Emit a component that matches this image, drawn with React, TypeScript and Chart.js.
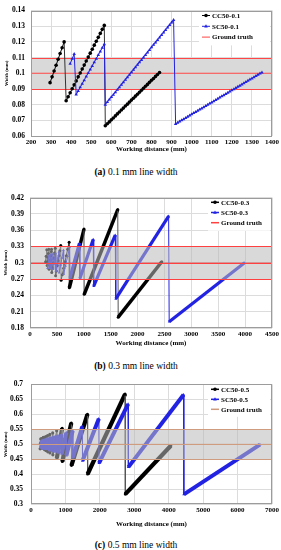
import React, { useEffect, useRef } from "react";
import { Chart, registerables } from "chart.js";
Chart.register(...registerables);

const SERIF = "'Liberation Serif', 'Times New Roman', serif";
const BLUE = "#2222e2";
const GRID = "#dcdcdc";

// ---------- (a) 0.1 mm line width ----------
const aCcDist = [295,305,315,325,335,345,355,365,375,385,395,405,415,425,435,445,455,465,475,485,495,505,515,525,535,545,555,565,570,580,590,600,610,620,630,640,650,660,670,680,690,700,710,720,730,740,750,760,770,780,790,800,810,820,830,840];
const aCcWidth = [0.094,0.0977,0.1014,0.1051,0.1089,0.1126,0.1163,0.120,0.0825,0.0850,0.0876,0.0901,0.0926,0.0951,0.0977,0.1002,0.1027,0.1052,0.1078,0.1103,0.1128,0.1153,0.1179,0.1204,0.1229,0.1254,0.1280,0.1305,0.0665,0.0678,0.0690,0.0703,0.0715,0.0728,0.0741,0.0753,0.0766,0.0778,0.0791,0.0803,0.0816,0.0829,0.0841,0.0854,0.0866,0.0879,0.0892,0.0904,0.0917,0.0929,0.0942,0.0955,0.0967,0.0980,0.0992,0.1005];
const aScDist = [395,405,415,425,435,445,455,465,475,485,495,505,515,525,535,545,555,565,570,580,590,600,610,620,630,640,650,660,670,680,690,700,710,720,730,740,750,760,770,780,790,800,810,820,830,840,850,860,870,880,890,900,910,920,930,940,950,960,970,980,990,1000,1010,1020,1030,1040,1050,1060,1070,1080,1090,1100,1110,1120,1130,1140,1150,1160,1170,1180,1190,1200,1210,1220,1230,1240,1250,1260,1270,1280,1290,1300,1310,1320,1330,1340,1350];
const aScWidth = [0.106,0.1092,0.1122,0.0864,0.0887,0.0910,0.0933,0.0956,0.0979,0.1001,0.1024,0.1047,0.1070,0.1093,0.1116,0.1139,0.1162,0.1185,0.0800,0.0816,0.0832,0.0848,0.0863,0.0879,0.0895,0.0911,0.0927,0.0943,0.0959,0.0974,0.0990,0.1006,0.1022,0.1038,0.1054,0.1070,0.1085,0.1101,0.1117,0.1133,0.1149,0.1165,0.1181,0.1196,0.1212,0.1228,0.1244,0.1260,0.1276,0.1292,0.1307,0.1323,0.1339,0.0677,0.0685,0.0692,0.0700,0.0707,0.0715,0.0723,0.0730,0.0738,0.0746,0.0753,0.0761,0.0769,0.0776,0.0784,0.0791,0.0799,0.0807,0.0814,0.0822,0.0830,0.0837,0.0845,0.0853,0.0860,0.0868,0.0876,0.0883,0.0891,0.0898,0.0906,0.0914,0.0921,0.0929,0.0937,0.0944,0.0952,0.0960,0.0967,0.0975,0.0982,0.0990,0.0998,0.1005];
const aTruthDist = [200, 1400];
const aTruthWidth = [0.1, 0.1];
const aBand = [0.09, 0.11];

// ---------- (b) 0.3 mm line width ----------
const bCcDist = [290,300,312,318,326,334,342,350,355,365,375,385,395,400,405,418,431,444,457,470,476,492,508,524,540,556,572,578,600,625,650,675,700,728,732,1004,1008,1632,1640,2450];
const bCcWidth = [0.302,0.312,0.324,0.295,0.302,0.310,0.317,0.325,0.288,0.296,0.305,0.313,0.321,0.325,0.282,0.291,0.300,0.309,0.318,0.327,0.276,0.285,0.295,0.304,0.313,0.322,0.332,0.268,0.278,0.290,0.302,0.313,0.325,0.338,0.254,0.362,0.242,0.398,0.200,0.302];
const bScDist = [325,335,345,351,355,365,375,385,390,400,412,425,430,445,460,475,480,500,520,538,543,570,595,621,626,660,700,738,744,830,920,928,1175,1185,1585,1595,2578,2588,3990];
const bScWidth = [0.290,0.299,0.308,0.313,0.290,0.298,0.306,0.315,0.290,0.297,0.306,0.316,0.288,0.298,0.308,0.318,0.285,0.297,0.309,0.320,0.282,0.296,0.309,0.323,0.279,0.294,0.312,0.329,0.272,0.304,0.336,0.271,0.343,0.257,0.351,0.2335,0.386,0.1916,0.300];
const bTruthDist = [0, 4500];
const bTruthWidth = [0.3, 0.3];
const bBand = [0.27, 0.33];

// ---------- (c) 0.5 mm line width ----------
const cCcDist = [265,275,283,288,296,303,308,318,328,333,345,357,362,376,390,395,413,431,436,459,482,487,517,546,551,590,630,635,690,745,750,905,910,1171,1176,1639,1645,2732,2740,4060];
const cCcWidth = [0.485,0.503,0.518,0.492,0.506,0.518,0.488,0.504,0.520,0.488,0.505,0.523,0.486,0.505,0.523,0.482,0.504,0.526,0.479,0.504,0.529,0.475,0.505,0.533,0.471,0.504,0.538,0.465,0.505,0.545,0.454,0.553,0.443,0.571,0.430,0.600,0.401,0.667,0.334,0.495];
const cScDist = [296,303,310,312,318,325,327,335,342,344,352,360,362,371,381,383,393,404,406,418,430,432,446,460,462,478,494,496,515,533,535,558,580,582,608,635,637,670,702,704,744,784,786,838,889,891,958,1026,1028,1120,1212,1216,1490,1496,1970,1976,2820,2828,4431,4440,6650];
const cScWidth = [0.488,0.500,0.512,0.491,0.501,0.512,0.4905,0.5025,0.513,0.490,0.502,0.513,0.489,0.501,0.514,0.488,0.501,0.515,0.487,0.502,0.516,0.486,0.502,0.5175,0.485,0.502,0.519,0.4836,0.502,0.520,0.4815,0.502,0.522,0.480,0.502,0.524,0.478,0.5025,0.5265,0.475,0.502,0.529,0.4716,0.503,0.533,0.468,0.503,0.539,0.4626,0.504,0.545,0.456,0.559,0.445,0.585,0.437,0.634,0.424,0.665,0.333,0.499];
const cTruthDist = [0, 7000];
const cTruthWidth = [0.5, 0.5];
const cBand = [0.45, 0.55];

function pts(xs: number[], ys: number[]) {
  return xs.map((x, i) => ({ x, y: ys[i] }));
}

const font = (size: number, weight: any = "bold") => ({ family: SERIF, size, weight });

function seriesStyle(color: string, dropColor: string, pointStyle: string, radius: number, thick: number, minLen: number) {
  return {
    borderColor: color,
    backgroundColor: color,
    pointBackgroundColor: color,
    pointBorderColor: color,
    pointBorderWidth: 0,
    pointStyle,
    pointRadius: radius,
    borderWidth: 1,
    showLine: true,
    tension: 0,
    segment: {
      borderWidth: (c: any) => {
        const dx = c.p1.x - c.p0.x;
        const dy = c.p1.y - c.p0.y;
        if (dy > 0) return 1;
        return Math.hypot(dx, dy) >= minLen ? thick : 1;
      },
      borderColor: (c: any) => (c.p1.y - c.p0.y > 0 ? dropColor : color),
    },
  };
}

function drawMarker(ctx: any, style: string, x: number, y: number, r: number) {
  ctx.beginPath();
  if (style === "triangle") {
    ctx.moveTo(x, y - r * 1.1);
    ctx.lineTo(x + r, y + r * 0.7);
    ctx.lineTo(x - r, y + r * 0.7);
    ctx.closePath();
  } else {
    ctx.arc(x, y, r, 0, Math.PI * 2);
  }
  ctx.fill();
}

function drawBand(chart: any, o: any) {
  const { ctx, chartArea: ca, scales } = chart;
  const y = scales.y;
  const yHi = Math.round(y.getPixelForValue(o.band[1]));
  const yLo = Math.round(y.getPixelForValue(o.band[0]));
  ctx.save();
  ctx.fillStyle = o.bandFill;
  ctx.fillRect(ca.left, yHi, ca.right - ca.left, yLo - yHi);
  ctx.strokeStyle = o.edge;
  ctx.lineWidth = 1;
  ctx.strokeRect(ca.left + 0.5, yHi + 0.5, ca.right - ca.left - 1, yLo - yHi);
  if (o.onTop) {
    const yc = Math.round(y.getPixelForValue(o.truth)) + 0.5;
    ctx.beginPath();
    ctx.moveTo(ca.left, yc);
    ctx.lineTo(ca.right, yc);
    ctx.stroke();
  }
  ctx.restore();
}

function drawLegend(chart: any, o: any) {
  const { ctx, chartArea: ca } = chart;
  const x0 = o.legendX;
  ctx.save();
  ctx.fillStyle = "#ffffff";
  ctx.fillRect(x0 - 3, ca.top + 1.5, ca.right - 2 - (x0 - 3), o.legendGap * 3 + 1);
  let y = ca.top + o.legendTop;
  chart.data.datasets.forEach((ds: any) => {
    ctx.strokeStyle = ds.borderColor;
    ctx.lineWidth = o.legendLineWidth;
    ctx.beginPath();
    ctx.moveTo(x0, y);
    ctx.lineTo(x0 + 8, y);
    ctx.stroke();
    if (ds.pointStyle) {
      ctx.fillStyle = ds.borderColor;
      drawMarker(ctx, ds.pointStyle, x0 + 4, y, 1.8);
    }
    ctx.fillStyle = "#000";
    ctx.font = `bold 7px ${SERIF}`;
    ctx.textBaseline = "middle";
    ctx.textAlign = "left";
    ctx.fillText(ds.label, x0 + 10, y + 0.5);
    y += o.legendGap;
  });
  ctx.restore();
}

const panelPlugin = {
  id: "panel",
  beforeDatasetsDraw(chart: any, _a: any, o: any) {
    if (!o.onTop) drawBand(chart, o);
  },
  afterDatasetsDraw(chart: any, _a: any, o: any) {
    if (o.onTop) drawBand(chart, o);
    const { ctx, chartArea: ca } = chart;
    ctx.save();
    ctx.strokeStyle = "#9c9c9c";
    ctx.lineWidth = 1;
    ctx.strokeRect(Math.round(ca.left) + 0.5, Math.round(ca.top) + 0.5, Math.round(ca.right - ca.left) - 1, Math.round(ca.bottom - ca.top) - 1);
    ctx.restore();
    drawLegend(chart, o);
  },
};

function buildConfig(s: any) {
  return {
    type: "scatter",
    data: {
      datasets: [
        { label: s.ccLabel, data: pts(s.ccDist, s.ccWidth), order: 1, ...seriesStyle("#000000", s.ccDrop, "circle", s.ccRadius, s.ccThick, s.ccMinLen) },
        { label: s.scLabel, data: pts(s.scDist, s.scWidth), order: 0, ...seriesStyle(BLUE, BLUE, "triangle", s.scRadius, s.scThick, s.scMinLen) },
        { label: "Ground truth", data: pts(s.truthDist, s.truthWidth), order: 2, borderColor: s.edge, backgroundColor: s.edge, borderWidth: 1, pointRadius: 0, pointStyle: false, showLine: true },
      ],
    },
    options: {
      responsive: false,
      animation: false,
      devicePixelRatio: 1,
      events: [],
      layout: { padding: s.padding },
      plugins: {
        legend: { display: false },
        tooltip: { enabled: false },
        panel: {
          band: s.band,
          truth: s.truthWidth[0],
          bandFill: s.bandFill,
          edge: s.edge,
          onTop: s.onTop,
          legendX: s.legendX,
          legendTop: s.legendTop,
          legendGap: s.legendGap,
          legendLineWidth: s.legendLineWidth,
        },
      },
      scales: {
        x: {
          type: "linear",
          position: "bottom",
          min: s.xMin,
          max: s.xMax,
          ticks: { stepSize: s.xStep, font: font(7), color: "#000", padding: s.xTickPad, maxRotation: 0, autoSkip: false, callback: (v: any) => String(v) },
          grid: { color: GRID, drawTicks: false },
          border: { display: false },
          title: { display: true, text: "Working distance (mm)", font: font(7), color: "#000", padding: { top: 0, bottom: s.xTitlePad } },
          afterFit: (sc: any) => { sc.height = s.xHeight; },
        },
        y: {
          type: "linear",
          min: s.yMin,
          max: s.yMax,
          ticks: { stepSize: s.yStep, font: font(7.5), color: "#000", padding: s.yTickPad, callback: (v: any) => String(Math.round(v * 1000) / 1000) },
          grid: { color: GRID, drawTicks: false },
          border: { display: false },
          title: { display: true, text: "Width (mm)", font: font(4.8), color: "#000", padding: { top: s.yTitlePad, bottom: 0 } },
          afterFit: (sc: any) => { sc.width = s.yWidth; },
        },
      },
    },
    plugins: [panelPlugin],
  };
}

const specA = {
  ccLabel: "CC50-0.1", scLabel: "SC50-0.1",
  ccDist: aCcDist, ccWidth: aCcWidth, scDist: aScDist, scWidth: aScWidth,
  truthDist: aTruthDist, truthWidth: aTruthWidth, band: aBand,
  ccDrop: "#333333", ccRadius: 1.8, ccThick: 1, ccMinLen: 9999,
  scRadius: 2, scThick: 1, scMinLen: 9999,
  bandFill: "#d9d9d9", edge: "#ff4545", onTop: false,
  xMin: 200, xMax: 1400, xStep: 100, yMin: 0.06, yMax: 0.14, yStep: 0.01,
  padding: { left: 0, top: 4.5, right: 8, bottom: 0 },
  xHeight: 22, xTickPad: 2, xTitlePad: 4.5, yWidth: 31, yTickPad: 6, yTitlePad: 4,
  legendX: 202, legendTop: 5, legendGap: 10.8, legendLineWidth: 1,
};

const specB = {
  ccLabel: "CC50-0.3", scLabel: "SC50-0.3",
  ccDist: bCcDist, ccWidth: bCcWidth, scDist: bScDist, scWidth: bScWidth,
  truthDist: bTruthDist, truthWidth: bTruthWidth, band: bBand,
  ccDrop: "#555555", ccRadius: 1.5, ccThick: 3.5, ccMinLen: 12,
  scRadius: 1.6, scThick: 3.2, scMinLen: 12,
  bandFill: "rgba(185,185,185,0.55)", edge: "#ff4040", onTop: true,
  xMin: 0, xMax: 4500, xStep: 500, yMin: 0.18, yMax: 0.42, yStep: 0.03,
  padding: { left: 0, top: 15.6, right: 7.7, bottom: 0 },
  xHeight: 20, xTickPad: 2, xTitlePad: 0.3, yWidth: 30, yTickPad: 6, yTitlePad: 3,
  legendX: 211, legendTop: 4.7, legendGap: 10.2, legendLineWidth: 1.5,
};

const specC = {
  ccLabel: "CC50-0.5", scLabel: "SC50-0.5",
  ccDist: cCcDist, ccWidth: cCcWidth, scDist: cScDist, scWidth: cScWidth,
  truthDist: cTruthDist, truthWidth: cTruthWidth, band: cBand,
  ccDrop: "#555555", ccRadius: 1.6, ccThick: 4.2, ccMinLen: 20,
  scRadius: 1.8, scThick: 4, scMinLen: 0,
  bandFill: "rgba(185,185,185,0.55)", edge: "#cf9c80", onTop: true,
  xMin: 0, xMax: 7000, xStep: 1000, yMin: 0.3, yMax: 0.7, yStep: 0.05,
  padding: { left: 0, top: 16.3, right: 7.7, bottom: 0 },
  xHeight: 27.7, xTickPad: 2, xTitlePad: 3.5, yWidth: 31, yTickPad: 8, yTitlePad: 3,
  legendX: 211, legendTop: 5, legendGap: 10, legendLineWidth: 1.5,
};

function Panel({ top, height, spec }: any) {
  const ref = useRef<HTMLCanvasElement | null>(null);
  useEffect(() => {
    const chart = new Chart(ref.current as any, buildConfig(spec) as any);
    return () => chart.destroy();
  }, []);
  return (
    <canvas
      ref={ref}
      width={281}
      height={height}
      style={{ position: "absolute", left: 0, top, width: 281, height, display: "block" }}
    />
  );
}

function Caption({ center, tag, text }: any) {
  return (
    <div
      style={{
        position: "absolute",
        left: 0,
        width: 272,
        top: center - 6,
        height: 12,
        lineHeight: "12px",
        textAlign: "center",
        fontFamily: SERIF,
        fontSize: 9.5,
        color: "#000",
        whiteSpace: "nowrap",
      }}
    >
      <b>{tag}</b> {text}
    </div>
  );
}

export default function App() {
  return (
    <div style={{ position: "absolute", left: 0, top: 0, width: 281, height: 550, background: "#fff", overflow: "hidden" }}>
      <Panel top={0} height={158} spec={specA} />
      <Caption center={172} tag="(a)" text="0.1 mm line width" />
      <Panel top={182} height={166} spec={specB} />
      <Caption center={366} tag="(b)" text="0.3 mm line width" />
      <Panel top={368} height={164} spec={specC} />
      <Caption center={545} tag="(c)" text="0.5 mm line width" />
    </div>
  );
}
